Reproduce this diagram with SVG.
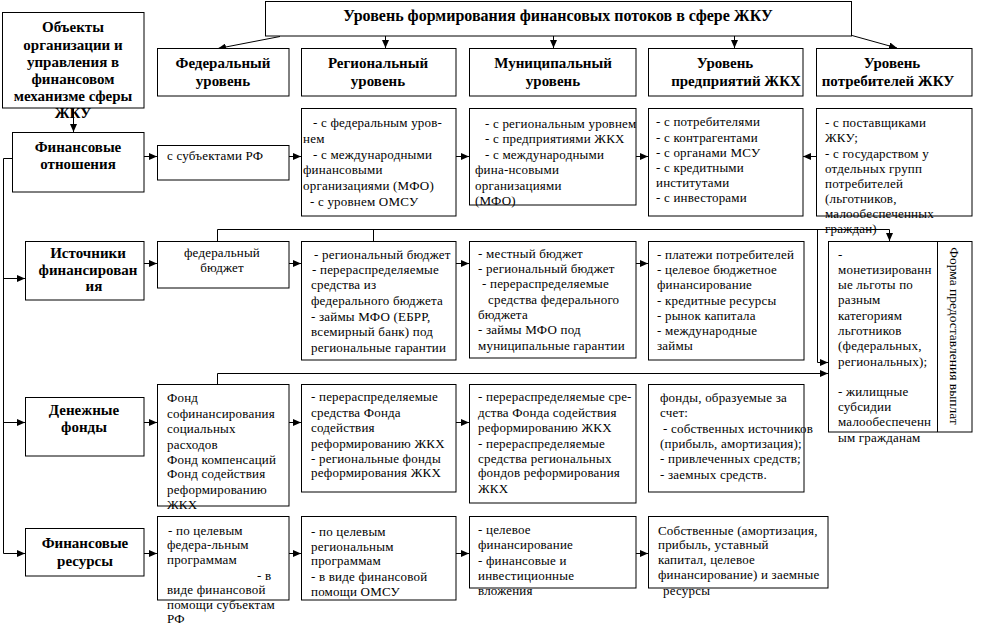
<svg xmlns="http://www.w3.org/2000/svg" width="986" height="627" viewBox="0 0 986 627">
<defs>
<marker id="ar" markerUnits="userSpaceOnUse" markerWidth="8" markerHeight="7" refX="8" refY="3.5" orient="auto">
<path d="M0,0 L8,3.5 L0,7 z" fill="#000"/>
</marker>
<style>
.b{fill:#fff;stroke:#000;stroke-width:1}
.c{fill:none;stroke:#000;stroke-width:1}
.a{fill:none;stroke:#000;stroke-width:1;marker-end:url(#ar)}
text{font-family:"Liberation Serif","Times New Roman",serif;fill:#000}
.t{font-size:13px;letter-spacing:0.2px}
.h{font-size:15px;font-weight:bold;text-anchor:middle}
.m{text-anchor:middle}
</style>
</defs>
<rect width="986" height="627" fill="#fff"/>
<g id="connectors">
<line class="a" x1="280" y1="36.5" x2="218" y2="48.5"/>
<line class="a" x1="385.5" y1="36" x2="385.5" y2="48"/>
<line class="a" x1="553.5" y1="36" x2="553.5" y2="48"/>
<line class="a" x1="734.5" y1="36" x2="734.5" y2="48"/>
<line class="a" x1="852" y1="35.5" x2="897" y2="48"/>
<line class="a" x1="73.5" y1="108" x2="73.5" y2="132"/>
<polyline class="a" points="12,158.5 3.5,158.5 3.5,553.5 25,553.5"/>
<line class="a" x1="3.5" y1="278.5" x2="25" y2="278.5"/>
<line class="a" x1="3.5" y1="422.5" x2="25" y2="422.5"/>
<line class="a" x1="144" y1="156.5" x2="157" y2="156.5"/>
<line class="a" x1="289" y1="156.5" x2="301" y2="156.5"/>
<line class="a" x1="456" y1="156.5" x2="469" y2="156.5"/>
<line class="a" x1="636" y1="156.5" x2="648" y2="156.5"/>
<line class="a" x1="816" y1="156.5" x2="803" y2="156.5"/>
<line class="a" x1="144" y1="263.5" x2="157" y2="263.5"/>
<line class="a" x1="289" y1="263.5" x2="301" y2="263.5"/>
<line class="a" x1="456" y1="263.5" x2="469" y2="263.5"/>
<line class="a" x1="636" y1="263.5" x2="648" y2="263.5"/>
<line class="a" x1="144" y1="422.5" x2="157" y2="422.5"/>
<line class="a" x1="289" y1="422.5" x2="301" y2="422.5"/>
<line class="a" x1="456" y1="422.5" x2="469" y2="422.5"/>
<line class="a" x1="144" y1="553.5" x2="157" y2="553.5"/>
<line class="a" x1="289" y1="553.5" x2="301" y2="553.5"/>
<line class="a" x1="456" y1="553.5" x2="469" y2="553.5"/>
<line class="a" x1="636" y1="553.5" x2="648" y2="553.5"/>
<polyline class="a" points="217.5,241 217.5,229.5 889.5,229.5 889.5,241"/>
<line class="c" x1="373.5" y1="241" x2="373.5" y2="229.5"/>
<polyline class="a" points="817.5,229.5 817.5,362.5 828,362.5"/>
<polyline class="a" points="217.5,384 217.5,373.5 828,373.5"/>
</g>
<g id="title">
<rect class="b" x="265.5" y="1.5" width="586" height="34.5"/>
<text class="h" x="558" y="21" style="font-size:16px">Уровень формирования финансовых потоков в сфере ЖКУ</text>
</g>
<g id="objects">
<rect class="b" x="2.5" y="12.5" width="141.5" height="95.5"/>
<text class="h" x="73"><tspan x="73" y="32">Объекты</tspan><tspan x="73" y="50">организации и</tspan><tspan x="73" y="67">управления в</tspan><tspan x="73" y="84">финансовом</tspan><tspan x="73" y="101">механизме сферы</tspan><tspan x="73" y="118">ЖКУ</tspan></text>
</g>
<g id="lvl-federal">
<rect class="b" x="157.5" y="48.5" width="131.5" height="47.5"/>
<text class="h"><tspan x="223" y="68">Федеральный</tspan><tspan x="223" y="86">уровень</tspan></text>
</g>
<g id="lvl-regional">
<rect class="b" x="301.5" y="48.5" width="154.5" height="47.5"/>
<text class="h"><tspan x="378" y="68">Региональный</tspan><tspan x="378" y="86">уровень</tspan></text>
</g>
<g id="lvl-municipal">
<rect class="b" x="469.5" y="48.5" width="166.5" height="47.5"/>
<text class="h"><tspan x="553" y="68">Муниципальный</tspan><tspan x="553" y="86">уровень</tspan></text>
</g>
<g id="lvl-enterprise">
<rect class="b" x="648.5" y="48.5" width="154.5" height="47.5"/>
<text class="h"><tspan x="725" y="68">Уровень</tspan><tspan x="736" y="86">предприятий ЖКХ</tspan></text>
</g>
<g id="lvl-consumer">
<rect class="b" x="816.5" y="48.5" width="155.5" height="47.5"/>
<text class="h"><tspan x="892" y="68">Уровень</tspan><tspan x="888" y="86">потребителей ЖКУ</tspan></text>
</g>
<g id="fin-relations">
<rect class="b" x="12.5" y="132.5" width="131.5" height="59.5"/>
<text class="h"><tspan x="78" y="152">Финансовые</tspan><tspan x="78" y="169">отношения</tspan></text>
</g>
<g id="rel-federal">
<rect class="b" x="157.5" y="145.5" width="131.5" height="34.5"/>
<text class="t" x="167" y="160">с субъектами РФ</text>
</g>
<g id="rel-regional">
<rect class="b" x="301.5" y="108.5" width="154.5" height="107.5"/>
<text class="t"><tspan x="313" y="127">- с федеральным уров-</tspan><tspan x="303" y="143">нем</tspan><tspan x="313" y="159">- с международными</tspan><tspan x="303" y="174">финансовыми</tspan><tspan x="303" y="190">организациями (МФО)</tspan><tspan x="310" y="206">- с уровнем ОМСУ</tspan></text>
</g>
<g id="rel-municipal">
<rect class="b" x="469.5" y="108.5" width="166.5" height="96.5"/>
<text class="t"><tspan x="485" y="128">- с региональным уровнем</tspan><tspan x="485" y="143">- с предприятиями ЖКХ</tspan><tspan x="485" y="159">- с международными</tspan><tspan x="475" y="174">фина-нсовыми</tspan><tspan x="475" y="190">организациями</tspan><tspan x="475" y="205">(МФО)</tspan></text>
</g>
<g id="rel-enterprise">
<rect class="b" x="648.5" y="108.5" width="154.5" height="107.5"/>
<text class="t"><tspan x="656" y="126">- с потребителями</tspan><tspan x="656" y="142">- с контрагентами</tspan><tspan x="656" y="157">- с органами МСУ</tspan><tspan x="656" y="172">- с кредитными</tspan><tspan x="656" y="187">институтами</tspan><tspan x="656" y="202">- с инвесторами</tspan></text>
</g>
<g id="rel-consumer">
<rect class="b" x="816.5" y="108.5" width="155.5" height="107.5"/>
<text class="t"><tspan x="825" y="127">-  с поставщиками</tspan><tspan x="825" y="142">ЖКУ;</tspan><tspan x="825" y="158">- с государством у</tspan><tspan x="825" y="173">отдельных групп</tspan><tspan x="825" y="188">потребителей</tspan><tspan x="825" y="203">(льготников,</tspan><tspan x="825" y="218">малообеспеченных</tspan><tspan x="825" y="233">граждан)</tspan></text>
</g>
<g id="sources">
<rect class="b" x="25.5" y="241.5" width="118.5" height="58.5"/>
<text class="h"><tspan x="88" y="258">Источники</tspan><tspan x="88" y="275">финансирован</tspan><tspan x="94" y="291">ия</tspan></text>
</g>
<g id="src-federal">
<rect class="b" x="157.5" y="241.5" width="131.5" height="46.5"/>
<text class="t m"><tspan x="222" y="257">федеральный</tspan><tspan x="222" y="272">бюджет</tspan></text>
</g>
<g id="src-regional">
<rect class="b" x="301.5" y="241.5" width="154.5" height="118.5"/>
<text class="t"><tspan x="314" y="259">- региональный бюджет</tspan><tspan x="312" y="274">-  перераспределяемые</tspan><tspan x="311" y="289">средства из</tspan><tspan x="311" y="305">федерального бюджета</tspan><tspan x="311" y="321">-  займы МФО (ЕБРР,</tspan><tspan x="311" y="336">всемирный банк) под</tspan><tspan x="311" y="352">региональные гарантии</tspan></text>
</g>
<g id="src-municipal">
<rect class="b" x="469.5" y="241.5" width="166.5" height="116.5"/>
<text class="t"><tspan x="478" y="258">-  местный бюджет</tspan><tspan x="478" y="273">-  региональный бюджет</tspan><tspan x="482" y="288">- перераспределяемые</tspan><tspan x="488" y="304">средства федерального</tspan><tspan x="478" y="319">бюджета</tspan><tspan x="478" y="334">- займы МФО под</tspan><tspan x="478" y="350">муниципальные гарантии</tspan></text>
</g>
<g id="src-enterprise">
<rect class="b" x="648.5" y="241.5" width="155.5" height="118.5"/>
<text class="t"><tspan x="657" y="259">- платежи потребителей</tspan><tspan x="657" y="274">- целевое бюджетное</tspan><tspan x="657" y="289">финансирование</tspan><tspan x="657" y="305">- кредитные ресурсы</tspan><tspan x="657" y="320">- рынок капитала</tspan><tspan x="657" y="335">- международные</tspan><tspan x="657" y="350">займы</tspan></text>
</g>
<g id="payment-forms">
<rect class="b" x="828.5" y="241.5" width="143.5" height="190.5"/>
<line class="c" x1="937.5" y1="241.5" x2="937.5" y2="432"/>
<text class="t"><tspan x="838" y="259">-</tspan><tspan x="838" y="274">монетизированн</tspan><tspan x="838" y="289">ые льготы по</tspan><tspan x="838" y="304">разным</tspan><tspan x="838" y="320">категориям</tspan><tspan x="838" y="335">льготников</tspan><tspan x="838" y="350">(федеральных,</tspan><tspan x="838" y="366">региональных);</tspan><tspan x="838" y="396">- жилищные</tspan><tspan x="838" y="411">субсидии</tspan><tspan x="838" y="426">малообеспеченн</tspan><tspan x="838" y="442">ым гражданам</tspan></text>
<text class="m" transform="translate(949.5,336) rotate(90)" x="0" y="0" style="font-size:13.5px">Форма предоставления выплат</text>
</g>
<g id="funds">
<rect class="b" x="25.5" y="397.5" width="118.5" height="58.5"/>
<text class="h"><tspan x="84" y="415">Денежные</tspan><tspan x="84" y="432">фонды</tspan></text>
</g>
<g id="fund-federal">
<rect class="b" x="157.5" y="384.5" width="131.5" height="121.5"/>
<text class="t"><tspan x="167" y="402">Фонд</tspan><tspan x="167" y="418">софинансирования</tspan><tspan x="167" y="433">социальных</tspan><tspan x="167" y="449">расходов</tspan><tspan x="167" y="464">Фонд компенсаций</tspan><tspan x="167" y="478">Фонд содействия</tspan><tspan x="167" y="494">реформированию</tspan><tspan x="167" y="509">ЖКХ</tspan></text>
</g>
<g id="fund-regional">
<rect class="b" x="301.5" y="384.5" width="154.5" height="107.5"/>
<text class="t"><tspan x="311" y="401">- перераспределяемые</tspan><tspan x="311" y="417">средства Фонда</tspan><tspan x="311" y="432">содействия</tspan><tspan x="311" y="448">реформированию ЖКХ</tspan><tspan x="311" y="463">-  региональные фонды</tspan><tspan x="311" y="477">реформирования ЖКХ</tspan></text>
</g>
<g id="fund-municipal">
<rect class="b" x="469.5" y="384.5" width="166.5" height="118.5"/>
<text class="t"><tspan x="478" y="401">-  перераспределяемые сре-</tspan><tspan x="478" y="417">дства Фонда содействия</tspan><tspan x="478" y="432">реформированию ЖКХ</tspan><tspan x="478" y="448">-  перераспределяемые</tspan><tspan x="478" y="463">средства региональных</tspan><tspan x="478" y="477">фондов реформирования</tspan><tspan x="478" y="493">ЖКХ</tspan></text>
</g>
<g id="fund-enterprise">
<rect class="b" x="648.5" y="384.5" width="155.5" height="107.5"/>
<text class="t"><tspan x="660" y="402">фонды, образуемые за</tspan><tspan x="660" y="417">счет:</tspan><tspan x="663" y="433">- собственных источников</tspan><tspan x="660" y="448">(прибыль, амортизация);</tspan><tspan x="660" y="463">- привлеченных средств;</tspan><tspan x="660" y="479">- заемных средств.</tspan></text>
</g>
<g id="resources">
<rect class="b" x="25.5" y="528.5" width="118.5" height="47.5"/>
<text class="h"><tspan x="85" y="548">Финансовые</tspan><tspan x="85" y="566">ресурсы</tspan></text>
</g>
<g id="res-federal">
<rect class="b" x="157.5" y="516.5" width="131.5" height="83.5"/>
<text class="t"><tspan x="168" y="535">- по целевым</tspan><tspan x="167" y="549">федера-льным</tspan><tspan x="167" y="564">программам</tspan><tspan x="257" y="580">- в</tspan><tspan x="167" y="594">виде финансовой</tspan><tspan x="167" y="609">помощи субъектам</tspan><tspan x="167" y="623">РФ</tspan></text>
</g>
<g id="res-regional">
<rect class="b" x="301.5" y="516.5" width="154.5" height="83.5"/>
<text class="t"><tspan x="311" y="536">- по целевым</tspan><tspan x="311" y="551">региональным</tspan><tspan x="311" y="565">программам</tspan><tspan x="311" y="581">- в виде финансовой</tspan><tspan x="311" y="596">помощи ОМСУ</tspan></text>
</g>
<g id="res-municipal">
<rect class="b" x="469.5" y="516.5" width="166.5" height="71.5"/>
<text class="t"><tspan x="478" y="534">- целевое</tspan><tspan x="478" y="549">финансирование</tspan><tspan x="478" y="565">-  финансовые и</tspan><tspan x="478" y="580">инвестиционные</tspan><tspan x="478" y="595">вложения</tspan></text>
</g>
<g id="res-enterprise">
<rect class="b" x="648.5" y="516.5" width="179.5" height="71.5"/>
<text class="t"><tspan x="658" y="535">Собственные (амортизация,</tspan><tspan x="658" y="549">прибыль, уставный</tspan><tspan x="658" y="564">капитал, целевое</tspan><tspan x="658" y="579">финансирование) и заемные</tspan><tspan x="663" y="595">ресурсы</tspan></text>
</g>
</svg>
